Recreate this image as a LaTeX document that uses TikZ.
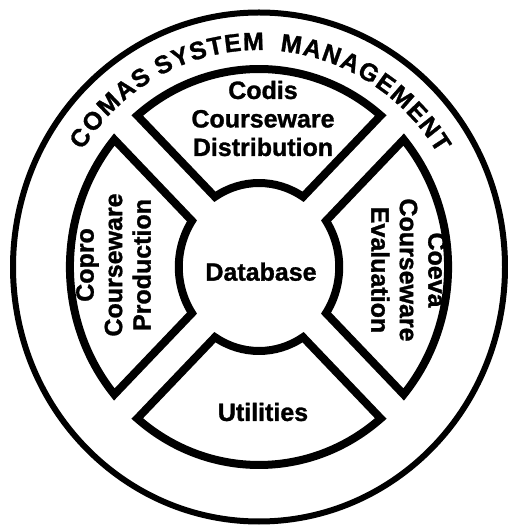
\documentclass[tikz,border=0pt]{standalone}
\usepackage{fontspec}
\setmainfont{Liberation Sans}[BoldFeatures={FakeBold=1.2}]
\begin{document}
\begin{tikzpicture}[x=1pt,y=1pt,
  seg/.style={draw=black, line width=8pt, line join=miter},
  ring/.style={draw=black, line width=6pt},
  lbl/.style={font=\fontsize{25}{28.5}\selectfont\bfseries, align=center, inner sep=0pt},
  arcletter/.style={font=\fontsize{25}{28}\selectfont\bfseries, inner sep=0pt, anchor=base}]
\useasboundingbox (0,0) rectangle (508,528);
\coordinate (C) at (259,261);
\draw[ring] (C) ellipse [x radius=246, y radius=254.5];
\begin{scope}[shift={(259,261)}, xscale=0.955]
  \def\Ro{198}\def\Rd{84}\def\w{17}
  \pgfmathsetmacro\ao{asin(\w/\Ro)}
  \pgfmathsetmacro\ai{asin(\w/\Rd)}
  \foreach \a in {90,180,270,0} {
    \draw[seg] ({\a-45+\ao}:\Ro) arc[start angle={\a-45+\ao}, end angle={\a+45-\ao}, radius=\Ro]
      -- ({\a+45-\ai}:\Rd) arc[start angle={\a+45-\ai}, end angle={\a-45+\ai}, radius=\Rd] -- cycle;
  }
\end{scope}
\node[lbl] (codis) at (263,409.5) {Codis\\Courseware\\Distribution};
\node[lbl, rotate=90] (copro) at (113.5,263) {Copro\\Courseware\\Production};
\node[lbl, rotate=-90] (coeva) at (408.5,258) {Coeva\\Courseware\\Evaluation};
\node[lbl] (db) at (261,256.3) {Database};
\node[lbl] (util) at (263,116) {Utilities};
\foreach \ch/\e [count=\i] in {C/0.361, O/1.111, M/1.9165, A/2.694, S/3.3885, S/4.3335, Y/5.0005, S/5.6675, T/6.3065, E/6.9455, M/7.6955, M/9.0685, A/9.846, N/10.568, A/11.29, G/12.04, E/12.7625, M/13.5125, E/14.2625, N/14.957, T/15.6235} {
  \pgfmathsetmacro\ang{89.3-(\e-7.992)*7.312}
  \node[arcletter, rotate=\ang-90] (L\i) at ({259+0.965*217*cos(\ang)},{261+217*sin(\ang)}) {\ch};
}
\end{tikzpicture}
\end{document}
